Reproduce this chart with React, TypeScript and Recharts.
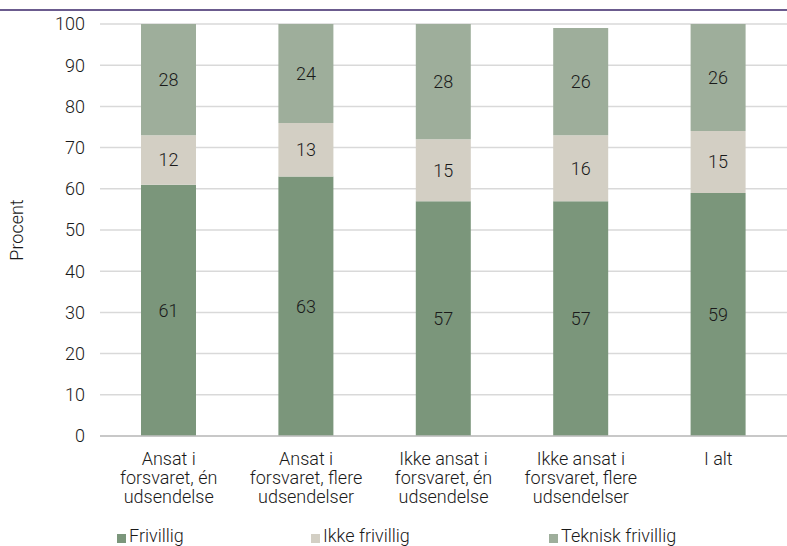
import React from 'react';
import { BarChart, Bar, XAxis, YAxis, CartesianGrid, LabelList, Label } from 'recharts';

const categories = [
  'Ansat i|forsvaret, én|udsendelse',
  'Ansat i|forsvaret, flere|udsendelser',
  'Ikke ansat i|forsvaret, én|udsendelse',
  'Ikke ansat i|forsvaret, flere|udsendelser',
  'I alt',
];
const frivillig = [61, 63, 57, 57, 59];
const ikkeFrivillig = [12, 13, 15, 16, 15];
const tekniskFrivillig = [28, 24, 28, 26, 26];
const yTicks = [0, 10, 20, 30, 40, 50, 60, 70, 80, 90, 100];

const COLORS = { frivillig: '#7b967b', ikke: '#d3cfc4', teknisk: '#9eae9b' };
const FONT = 'Roboto, sans-serif';
const TEXT = '#1a1a1a';

const data = categories.map((c, i) => ({
  name: c,
  frivillig: frivillig[i],
  ikke: ikkeFrivillig[i],
  teknisk: tekniskFrivillig[i],
}));

const legendItems = [
  { label: 'Frivillig', color: COLORS.frivillig, x: 117 },
  { label: 'Ikke frivillig', color: COLORS.ikke, x: 311 },
  { label: 'Teknisk frivillig', color: COLORS.teknisk, x: 549 },
];

function CategoryTick(props: any) {
  const { x, y, payload } = props;
  const lines = String(payload.value).split('|');
  return (
    <text x={x} y={y} textAnchor="middle" fontFamily={FONT} fontWeight={300} fontSize={18} fill={TEXT}>
      {lines.map((l, i) => (
        <tspan key={i} x={x} dy={i === 0 ? 21 : 19}>{l}</tspan>
      ))}
    </text>
  );
}

export default function App() {
  const labelStyle = { fill: TEXT, fontSize: 18, fontFamily: FONT, fontWeight: 300 };
  return (
    <div style={{ position: 'absolute', left: 0, top: 0, width: 787, height: 546, background: '#fff', overflow: 'hidden' }}>
      <div style={{ position: 'absolute', left: 0, top: 9, width: 787, height: 2, background: '#6b5b8e' }} />
      <BarChart
        width={787}
        height={546}
        data={data}
        margin={{ top: 24, right: 0, left: 0, bottom: 0 }}
        barCategoryGap="30%"
      >
        <CartesianGrid vertical={false} stroke="#d9d9d9" strokeWidth={1.5} />
        <XAxis
          dataKey="name"
          height={110}
          tick={<CategoryTick />}
          tickLine={false}
          axisLine={{ stroke: '#bfbfbf', strokeWidth: 1.5 }}
          interval={0}
        />
        <YAxis
          domain={[0, 100]}
          ticks={yTicks}
          allowDataOverflow
          width={100}
          tickLine={false}
          axisLine={false}
          tickSize={0}
          tickMargin={15}
          tick={{ fill: TEXT, fontSize: 18, fontFamily: FONT, fontWeight: 300 }}
        >
          <Label
            value="Procent"
            angle={-90}
            position="insideLeft"
            offset={17}
            style={{ textAnchor: 'middle', fill: TEXT, fontSize: 18, fontFamily: FONT, fontWeight: 300 }}
          />
        </YAxis>
        <Bar dataKey="frivillig" stackId="a" fill={COLORS.frivillig} barSize={55} isAnimationActive={false}>
          <LabelList dataKey="frivillig" position="center" style={labelStyle} />
        </Bar>
        <Bar dataKey="ikke" stackId="a" fill={COLORS.ikke} barSize={55} isAnimationActive={false}>
          <LabelList dataKey="ikke" position="center" style={labelStyle} />
        </Bar>
        <Bar dataKey="teknisk" stackId="a" fill={COLORS.teknisk} barSize={55} isAnimationActive={false}>
          <LabelList dataKey="teknisk" position="center" style={labelStyle} />
        </Bar>
      </BarChart>
      {legendItems.map((it) => (
        <div
          key={it.label}
          style={{
            position: 'absolute', left: it.x, top: 525, display: 'flex', alignItems: 'center',
            fontFamily: FONT, fontWeight: 300, fontSize: 18, color: TEXT, whiteSpace: 'nowrap',
          }}
        >
          <span style={{ display: 'inline-block', width: 9, height: 9, background: it.color, marginRight: 3, marginTop: 5 }} />
          {it.label}
        </div>
      ))}
    </div>
  );
}
